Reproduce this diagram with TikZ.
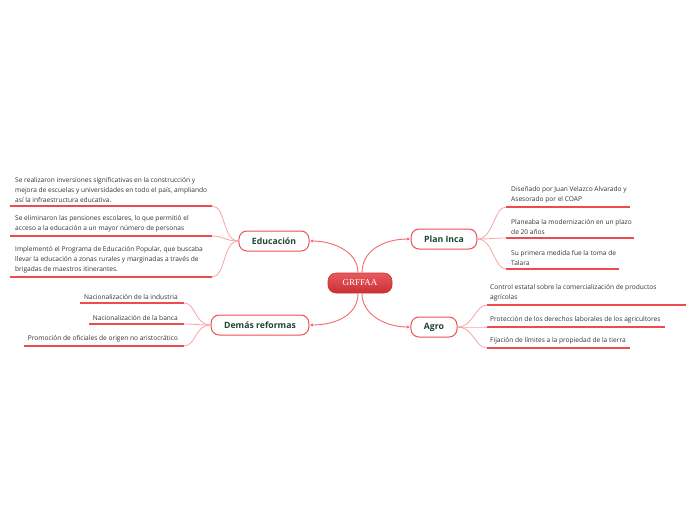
\documentclass[tikz,border=0pt]{standalone}
\usepackage{fontspec}
\setmainfont{Open Sans}
\newfontfamily\centralfont{Liberation Serif}
\usetikzlibrary{arrows.meta}
\definecolor{brd}{HTML}{EE4F55}
\definecolor{conn}{HTML}{F26A6E}
\definecolor{leafc}{HTML}{F7A4A6}
\definecolor{uline}{HTML}{F04A50}
\definecolor{lbl}{HTML}{1E4632}
\definecolor{txt}{HTML}{333333}
\definecolor{ctop}{HTML}{E85A5E}
\definecolor{cbot}{HTML}{C93035}
\tikzset{
  central/.style={rounded corners=8pt, top color=ctop, bottom color=cbot, draw=cbot, line width=0.6pt,
    minimum width=64pt, minimum height=20pt, text=white, font=\centralfont\fontsize{9}{10}\selectfont},
  branch/.style={rounded corners=8pt, fill=white, draw=brd, line width=1pt, minimum height=20pt,
    inner xsep=13pt, text=lbl, font=\bfseries\fontsize{8.7}{10}\selectfont},
  maincon/.style={draw=conn, line width=0.9pt, -{Latex[length=3.5pt,width=3pt]}},
  leafcon/.style={draw=leafc, line width=0.8pt},
  uln/.style={draw=uline, line width=1.2pt},
  leaf/.style={text=txt, font=\fontsize{6.6}{10}\selectfont, inner ysep=3.5pt, inner xsep=5pt},
}
\begin{document}
\begin{tikzpicture}[x=1pt,y=-1pt]
\useasboundingbox (0,0) rectangle (696,520);
% central and branches
\node[central] (c) at (360,283) {GRFFAA};
\node[branch] (edu) at (274,241) {Educación};
\node[branch] (inca) at (444,239) {Plan Inca};
\node[branch] (dem) at (260,325) {Demás reformas};
\node[branch] (agro) at (434,327) {Agro};
\draw[maincon] ([xshift=-2pt]c.north) .. controls +(0,-22) and +(22,0) .. (edu.east);
\draw[maincon] ([xshift=2pt]c.north) .. controls +(0,-24) and +(-24,0) .. (inca.west);
\draw[maincon] ([xshift=-2pt]c.south) .. controls +(0,22) and +(26,0) .. (dem.east);
\draw[maincon] ([xshift=2pt]c.south) .. controls +(0,22) and +(-24,0) .. (agro.west);
% Educacion leaves
\coordinate (e1) at (212,206);
\coordinate (e2) at (212,236);
\coordinate (e3) at (212,277);
\node[leaf, anchor=south west, align=left] (e1t) at (10,206) {Se realizaron inversiones significativas en la construcción y\\mejora de escuelas y universidades en todo el país, ampliando\\así la infraestructura educativa.};
\node[leaf, anchor=south west, align=left] (e2t) at (10,236) {Se eliminaron las pensiones escolares, lo que permitió el\\acceso a la educación a un mayor número de personas};
\node[leaf, anchor=south west, align=left] (e3t) at (10,277) {Implementó el Programa de Educación Popular, que buscaba\\llevar la educación a zonas rurales y marginadas a través de\\brigadas de maestros itinerantes.};
\draw[uln] (e1t.south west) -- (e1);
\draw[uln] (e2t.south west) -- (e2);
\draw[uln] (e3t.south west) -- (e3);
\draw[leafcon] (edu.west) .. controls +(-16,0) and +(14,0) .. (e1);
\draw[leafcon] (edu.west) .. controls +(-14,0) and +(12,0) .. (e2);
\draw[leafcon] (edu.west) .. controls +(-16,0) and +(14,0) .. (e3);
% Demas reformas leaves
\coordinate (d1) at (184,303);
\coordinate (d2) at (184,324);
\coordinate (d3) at (184,346);
\node[leaf, anchor=south east, inner xsep=6pt] (d1t) at (d1) {Nacionalización de la industria};
\node[leaf, anchor=south east, inner xsep=6pt] (d2t) at (d2) {Nacionalización de la banca};
\node[leaf, anchor=south east, inner xsep=6pt] (d3t) at (d3) {Promoción de oficiales de origen no aristocrático};
\draw[uln] ([xshift=2pt]d1t.south west) -- (d1);
\draw[uln] ([xshift=2pt]d2t.south west) -- (d2);
\draw[uln] ([xshift=2pt]d3t.south west) -- (d3);
\draw[leafcon] (dem.west) .. controls +(-16,0) and +(12,0) .. (d1);
\draw[leafcon] (dem.west) .. controls +(-14,0) and +(12,0) .. (d2);
\draw[leafcon] (dem.west) .. controls +(-16,0) and +(12,0) .. (d3);
% Plan Inca leaves
\coordinate (p1) at (506,207);
\coordinate (p2) at (506,238);
\coordinate (p3) at (506,269);
\node[leaf, anchor=south west, align=left] (p1t) at (p1) {Diseñado por Juan Velazco Alvarado y\\Asesorado por el COAP};
\node[leaf, anchor=south west, align=left] (p2t) at (p2) {Planeaba la modernización en un plazo\\de 20 años};
\node[leaf, anchor=south west, align=left] (p3t) at (p3) {Su primera medida fue la toma de\\Talara};
\draw[uln] (p1) -- ++(124,0);
\draw[uln] (p2) -- ++(128,0);
\draw[uln] (p3) -- ++(113,0);
\draw[leafcon] (inca.east) .. controls +(16,0) and +(-12,0) .. (p1);
\draw[leafcon] (inca.east) .. controls +(14,0) and +(-12,0) .. (p2);
\draw[leafcon] (inca.east) .. controls +(16,0) and +(-12,0) .. (p3);
% Agro leaves
\coordinate (a1) at (487,305);
\coordinate (a2) at (487,327);
\coordinate (a3) at (487,348);
\node[leaf, anchor=south west, align=left, inner xsep=3pt] (a1t) at (a1) {Control estatal sobre la comercialización de productos\\agrícolas};
\node[leaf, anchor=south west, align=left, inner xsep=3pt] (a2t) at (a2) {Protección de los derechos laborales de los agricultores};
\node[leaf, anchor=south west, align=left, inner xsep=3pt] (a3t) at (a3) {Fijación de límites a la propiedad de la tierra};
\draw[uln] (a1) -- ++(199,0);
\draw[uln] (a2) -- ++(178,0);
\draw[uln] (a3) -- ++(143,0);
\draw[leafcon] (agro.east) .. controls +(16,0) and +(-12,0) .. (a1);
\draw[leafcon] (agro.east) .. controls +(14,0) and +(-12,0) .. (a2);
\draw[leafcon] (agro.east) .. controls +(16,0) and +(-12,0) .. (a3);
\end{tikzpicture}
\end{document}
